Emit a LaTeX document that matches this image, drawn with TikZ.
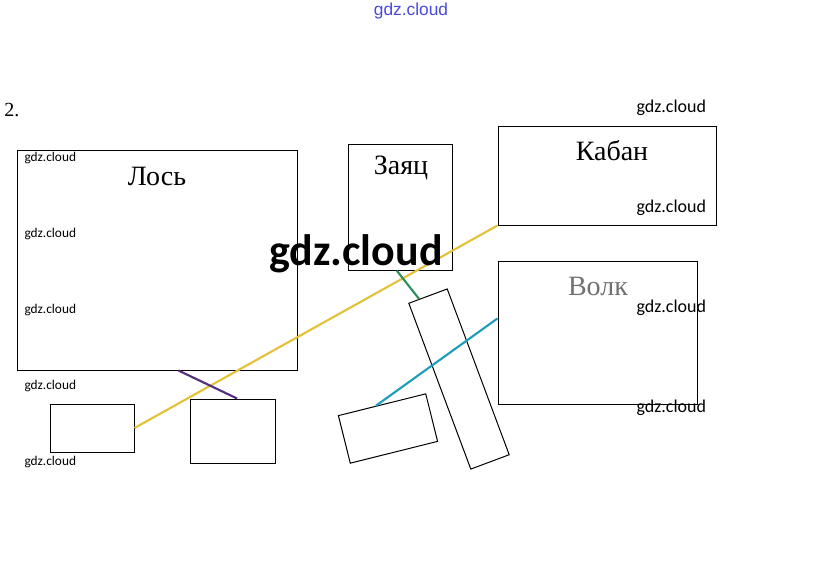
\documentclass[tikz,border=0pt]{standalone}
\usepackage{fontspec}
\setmainfont{Liberation Serif}
\newfontfamily\wmfont{Carlito}
\newfontfamily\wmtop{Liberation Sans}
\usetikzlibrary{calc}
\definecolor{cyellow}{HTML}{E3C23A}
\definecolor{cpurple}{HTML}{55307E}
\definecolor{cgreen}{HTML}{2F8F5E}
\definecolor{ccyan}{HTML}{1F9CBC}
\definecolor{cwblue}{HTML}{4848E0}
\definecolor{cgrey}{HTML}{707070}
\def\px{0.75pt}
\tikzset{
  every picture/.style={line width=0.75pt},
  box/.style 2 args={draw=black, inner sep=0pt, minimum width=#1*\px, minimum height=#2*\px},
  link/.style={draw=#1, line width=1.6pt},
  animal/.style={font=\fontsize{21}{24}\selectfont, inner sep=0pt},
  wm/.style={font=\wmfont\fontsize{#1}{#1}\selectfont, anchor=west, inner sep=0pt},
  wm/.default=10,
}

\begin{document}
\begin{tikzpicture}[x=0.75pt, y=-0.75pt]
  \useasboundingbox (0,0) rectangle (823,565);
  \node[font=\fontsize{15}{17}\selectfont, anchor=west, inner sep=0pt] (num) at (4,110) {2.};
  \node[box={280}{220}] (los) at (157,260) {};
  \node[box={104}{126}] (zayac) at (400,207) {};
  \node[box={218}{99}] (kaban) at (607,175.5) {};
  \node[box={199}{143}] (volk) at (597.5,332.5) {};
  \node[box={84}{48}] (boxa) at (92,428) {};
  \node[box={85}{64}] (boxb) at (232.5,431) {};
  \node[box={41}{177}, rotate=20.5] (plankl) at (459,379) {};
  \node[box={90}{49}, rotate=14] (plank) at (388,428.5) {};
  \node[animal] (lostxt) at (157,176) {Лось};
  \node[animal] (zayactxt) at (401,168) {Заяц};
  \node[animal] (kabantxt) at (612,151) {Кабан};
  \node[animal, text=cgrey] (volktxt) at (598,286) {Волк};
  \draw[link=cyellow] (kaban.south west) -- (boxa.east);
  \draw[link=cpurple] (los.-79) -- (boxb.82);
  \draw[link=cgreen] (zayac.-93) -- (plankl.96);
  \draw[link=ccyan] (plank.104) -- (volk.172);
  \foreach \y [count=\i] in {158,234,310,386,462}
    \node[wm] (wml\i) at (24,\y) {gdz.cloud};
  \foreach \y [count=\i] in {108,208,308,408}
    \node[wm=13.5] (wmr\i) at (636,\y) {gdz.cloud};
  \node[font=\wmfont\bfseries\fontsize{33}{33}\selectfont, inner sep=0pt] (wmbig) at (356,254) {gdz.cloud};
  \node[font=\wmtop\fontsize{13}{13}\selectfont, text=cwblue, inner sep=0pt] (wmtop) at (411,11) {gdz.cloud};
\end{tikzpicture}
\end{document}
